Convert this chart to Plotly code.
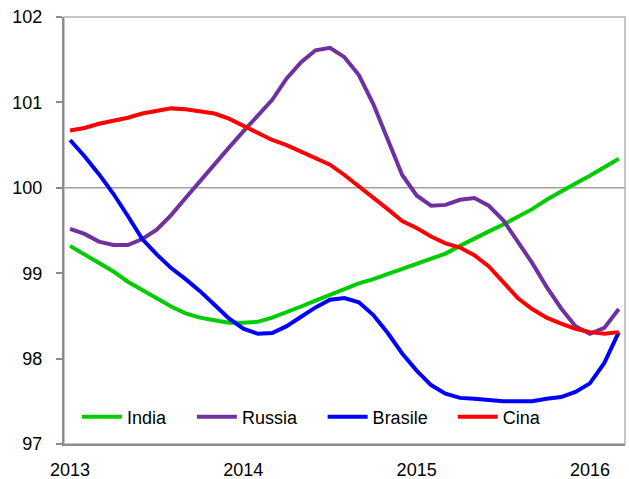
import plotly.graph_objects as go

# monthly index, Jan 2013 .. Mar 2016
months = list(range(39))
year_ticks = [0, 12, 24, 36]
year_labels = ["2013", "2014", "2015", "2016"]

india = [99.32, 99.22, 99.12, 99.02, 98.90, 98.80, 98.71, 98.61, 98.53, 98.48,
         98.45, 98.42, 98.42, 98.43, 98.48, 98.54, 98.61, 98.68, 98.75, 98.82,
         98.88, 98.93, 98.99, 99.06, 99.12, 99.18, 99.23, 99.32, 99.41, 99.49,
         99.57, 99.66, 99.75, 99.86, 99.96, 100.05, 100.14, 100.24, 100.34]

russia = [99.52, 99.46, 99.37, 99.33, 99.33, 99.40, 99.51, 99.68, 99.88, 100.08,
          100.28, 100.47, 100.66, 100.84, 101.03, 101.28, 101.47, 101.61, 101.64, 101.53,
          101.32, 100.98, 100.56, 100.15, 99.91, 99.79, 99.80, 99.86, 99.88, 99.79,
          99.62, 99.38, 99.12, 98.84, 98.59, 98.38, 98.29, 98.36, 98.58]

brasile = [100.56, 100.37, 100.16, 99.93, 99.67, 99.40, 99.22, 99.06, 98.93, 98.79,
           98.63, 98.47, 98.35, 98.29, 98.30, 98.38, 98.49, 98.60, 98.69, 98.71,
           98.66, 98.51, 98.30, 98.06, 97.86, 97.69, 97.59, 97.54, 97.53, 97.51,
           97.50, 97.50, 97.50, 97.53, 97.55, 97.61, 97.71, 97.95, 98.31]

cina = [100.67, 100.70, 100.75, 100.78, 100.82, 100.87, 100.90, 100.93, 100.92, 100.90,
        100.87, 100.81, 100.73, 100.64, 100.56, 100.50, 100.42, 100.35, 100.27, 100.15,
        100.02, 99.89, 99.75, 99.61, 99.53, 99.43, 99.35, 99.30, 99.21, 99.08,
        98.90, 98.71, 98.58, 98.48, 98.41, 98.35, 98.31, 98.29, 98.31]

series = [
    ("India", india, "#00cc00"),
    ("Russia", russia, "#7030a0"),
    ("Brasile", brasile, "#0000ff"),
    ("Cina", cina, "#ff0000"),
]

# one legend box per series so the entries can be spaced like the original
legend_ids = ["legend", "legend2", "legend3", "legend4"]
legend_x = [0.023, 0.228, 0.461, 0.693]

fig = go.Figure()
for (name, vals, col), lg in zip(series, legend_ids):
    fig.add_trace(go.Scatter(x=months, y=vals, name=name, mode="lines",
                             line=dict(color=col, width=4), legend=lg))

# horizontal reference line at 100 and plot frame
fig.add_hline(y=100, line=dict(color="#a0a0a0", width=1.5), layer="below")
fig.add_shape(type="rect", xref="paper", yref="paper", x0=0, x1=1, y0=0, y1=1,
              line=dict(color="#b4b4b4", width=1.5), layer="below")

legend_style = dict(orientation="h", y=0.063, xanchor="left", yanchor="middle",
                    bgcolor="rgba(0,0,0,0)", itemwidth=40, font=dict(size=18))
legends = {lg: dict(legend_style, x=lx) for lg, lx in zip(legend_ids, legend_x)}

fig.update_layout(
    width=629, height=479,
    margin=dict(l=64, r=4, t=17, b=35, autoexpand=False),
    paper_bgcolor="white", plot_bgcolor="white",
    font=dict(family="Liberation Sans, Arial, sans-serif", size=18, color="black"),
    showlegend=True,
    xaxis=dict(range=[-0.42, 38.43], tickvals=year_ticks, ticktext=year_labels,
               showgrid=False, zeroline=False, showline=True, linecolor="#8c8c8c",
               linewidth=2, ticks="", ticklabelstandoff=8, automargin=False),
    yaxis=dict(range=[97, 102], dtick=1, showgrid=False, zeroline=False,
               showline=True, linecolor="#8c8c8c", linewidth=2,
               ticks="outside", ticklen=6, tickwidth=2, tickcolor="#8c8c8c",
               ticklabelstandoff=10, automargin=False),
    **legends,
)

# drop the default page margin so the figure fills the window exactly
fig.write_html("out.html", config={"displayModeBar": False},
               post_script="document.body.style.margin='0';"
                           "document.body.style.overflow='hidden';")
